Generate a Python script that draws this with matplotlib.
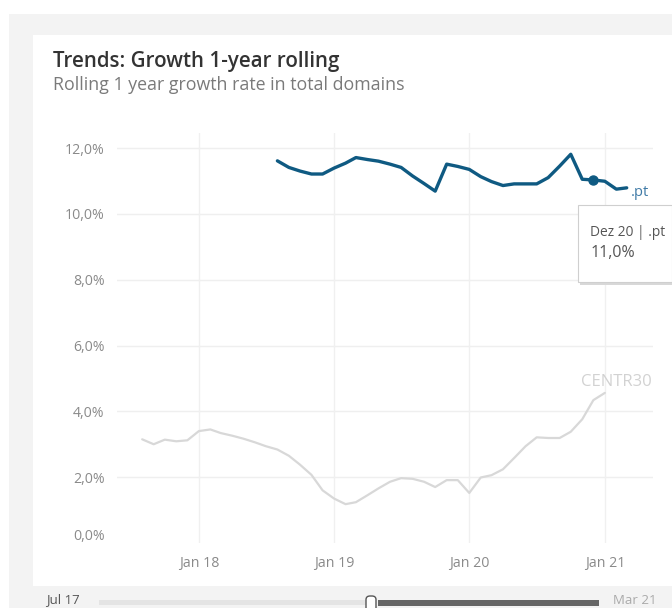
import matplotlib
matplotlib.use("Agg")
import matplotlib.pyplot as plt
from matplotlib.patches import Rectangle, FancyBboxPatch
from matplotlib.transforms import ScaledTranslation
import pandas as pd

plt.rcParams['font.family'] = ['Open Sans', 'DejaVu Sans']

# ---- data ----
centr_start = "2017-08-01"
centr30_values = [3.15, 3.00, 3.14, 3.09, 3.12,
                  3.40, 3.45, 3.34, 3.26, 3.17, 3.06, 2.94, 2.84, 2.65, 2.38, 2.07, 1.60,
                  1.35, 1.18, 1.24, 1.45, 1.66, 1.86, 1.97, 1.95, 1.86, 1.70, 1.91, 1.91,
                  1.52, 1.99, 2.06, 2.24, 2.58, 2.94, 3.21, 3.19, 3.19, 3.38, 3.76, 4.34,
                  4.56]
pt_start = "2018-08-01"
pt_values = [11.61, 11.41, 11.30, 11.21, 11.21,
             11.39, 11.54, 11.71, 11.65, 11.60, 11.51, 11.41, 11.15, 10.92, 10.69, 11.51, 11.44,
             11.35, 11.13, 10.98, 10.86, 10.91, 10.91, 10.91, 11.10, 11.45, 11.81, 11.05, 11.03,
             10.99, 10.75, 10.79]
highlight_date = "2020-12-01"
highlight_label = "Dez 20 | .pt"
highlight_value_label = "11,0%"

y_ticks = [0, 2, 4, 6, 8, 10, 12]
y_tick_labels = ["0,0%", "2,0%", "4,0%", "6,0%", "8,0%", "10,0%", "12,0%"]
x_ticks = ["2018-01-01", "2019-01-01", "2020-01-01", "2021-01-01"]
x_tick_labels = ["Jan 18", "Jan 19", "Jan 20", "Jan 21"]

title = "Trends: Growth 1-year rolling"
subtitle = "Rolling 1 year growth rate in total domains"
slider_left = "Jul 17"
slider_right = "Mar 21"

centr_dates = pd.date_range(centr_start, periods=len(centr30_values), freq="MS")
pt_dates = pd.date_range(pt_start, periods=len(pt_values), freq="MS")

W, H = 672, 608
fig = plt.figure(figsize=(W / 100, H / 100), dpi=100)
fig.patch.set_facecolor("white")

def fx(x):
    return x / W

def fy(y):
    return 1 - y / H

# backgrounds
fig.patches.append(Rectangle((fx(9), 0), 1 - fx(9), fy(14), transform=fig.transFigure,
                             facecolor="#f3f3f3", edgecolor="none", zorder=-2))
fig.patches.append(Rectangle((fx(33), fy(586)), 1 - fx(33), fy(35) - fy(586),
                             transform=fig.transFigure, facecolor="white",
                             edgecolor="none", zorder=-1))

# title
fig.text(fx(53), fy(61), title, fontsize=14.8, fontweight="semibold", color="#333333",
         va="center", ha="left")
fig.text(fx(53), fy(85), subtitle, fontsize=12.8, color="#7a7a7a", va="center", ha="left")

ax = fig.add_axes([fx(117), fy(543), fx(653) - fx(117), fy(133) - fy(543)])
ax.set_facecolor("none")
ax.set_zorder(1)

blue = "#0f5a82"
ax.plot(centr_dates, centr30_values, color="#d8d8d8", lw=1.6, solid_capstyle="round", zorder=3)
ax.plot(pt_dates, pt_values, color=blue, lw=2.4, solid_capstyle="round",
        solid_joinstyle="round", zorder=4)
hd = pd.Timestamp(highlight_date)
hv = pt_values[list(pt_dates).index(hd)]
ax.plot([hd], [hv], "o", color=blue, ms=6.5, zorder=5)

ax.set_xlim(pd.Timestamp("2017-05-25"), pd.Timestamp("2021-05-11"))
ax.set_ylim(0, 12.456)

ax.set_yticks(y_ticks)
ax.set_yticklabels(y_tick_labels)
ax.set_xticks([pd.Timestamp(d) for d in x_ticks])
ax.set_xticklabels(x_tick_labels)
ax.tick_params(axis="y", length=0, pad=9, labelsize=10.2, labelcolor="#8a8a8a")
ax.tick_params(axis="x", length=0, pad=9.5, labelsize=10.2, labelcolor="#8a8a8a")
for lab in ax.get_yticklabels():
    if lab.get_text() == "0,0%":
        lab.set_transform(lab.get_transform() + ScaledTranslation(0, 8 / 100, fig.dpi_scale_trans))

for s in ax.spines.values():
    s.set_visible(False)
for v in y_ticks[1:]:
    ax.axhline(v, color="#efefef", lw=1, zorder=1)
for d in x_ticks:
    ax.axvline(pd.Timestamp(d), color="#f0f0f0", lw=1, zorder=1)

# series labels
ax.annotate(".pt", xy=(pt_dates[-1], pt_values[-1]), xytext=(3, -3), textcoords="offset points",
            color="#3f7aa6", fontsize=10.5, va="center", ha="left")
ax.annotate("CENTR30", xy=(centr_dates[-1], centr30_values[-1]), xytext=(-17, 8),
            textcoords="offset points", color="#d2d2d2", fontsize=12, va="center", ha="left")

# tooltip
fig.add_artist(Rectangle((fx(580), fy(285)), 1 - fx(580), fy(207) - fy(285),
                         transform=fig.transFigure, facecolor="#d8d8d8",
                         edgecolor="none", zorder=6))
fig.add_artist(Rectangle((fx(578), fy(282)), 1 - fx(578), fy(205) - fy(282),
                         transform=fig.transFigure, facecolor="white",
                         edgecolor="#cfcfcf", lw=0.8, zorder=7))
fig.text(fx(590), fy(232), highlight_label, fontsize=9.9, color="#555555", va="center",
         ha="left", zorder=8)
fig.text(fx(591), fy(253), highlight_value_label, fontsize=11.5, color="#555555", va="center",
         ha="left", zorder=8)

# slider
fig.add_artist(Rectangle((fx(99), fy(605)), fx(366) - fx(99), fy(600) - fy(605),
                         transform=fig.transFigure, facecolor="#e4e4e4",
                         edgecolor="none", zorder=2))
fig.add_artist(Rectangle((fx(378), fy(606)), fx(599) - fx(378), fy(600) - fy(606),
                         transform=fig.transFigure, facecolor="#666666",
                         edgecolor="none", zorder=2))
fig.add_artist(FancyBboxPatch((fx(366), fy(612)), fx(376) - fx(366), fy(596) - fy(612),
                              boxstyle="round,pad=0,rounding_size=0.006",
                              transform=fig.transFigure, facecolor="white",
                              edgecolor="#555555", lw=1, zorder=3))
fig.text(fx(46), fy(600), slider_left, fontsize=9.5, color="#555555", va="center", ha="left")
fig.text(fx(613), fy(600), slider_right, fontsize=9.5, color="#aaaaaa", va="center", ha="left")

fig.savefig("out.png", dpi=100)
